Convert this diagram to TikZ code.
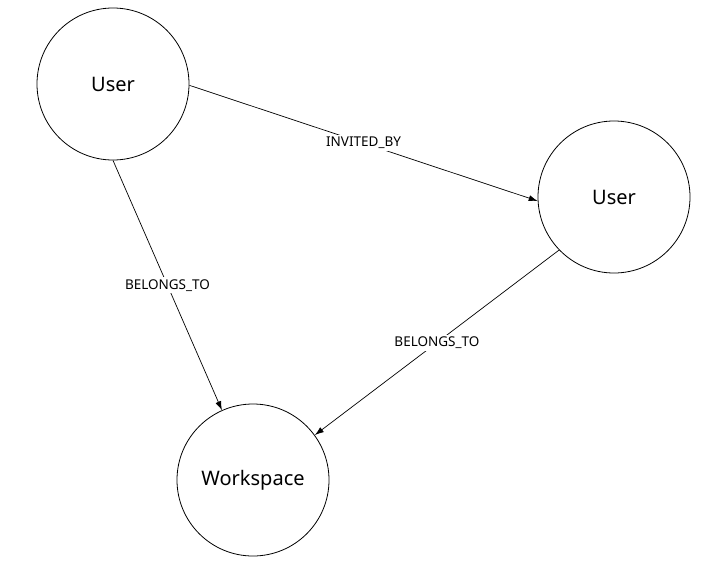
\documentclass[tikz,border=0pt]{standalone}
\usepackage{fontspec}
\setmainfont{Noto Sans}
\usepackage{tikz}
\usetikzlibrary{arrows.meta}
\tikzset{
  entity/.style={circle,draw=black,line width=0.8pt,minimum size=152pt,inner sep=0pt,
    font=\fontsize{20}{24}\selectfont,fill=white},
  rel/.style={-{Latex[length=9pt,width=6pt]},line width=0.7pt,black},
  rellabel/.style={font=\fontsize{13.5}{16}\selectfont,fill=white,inner sep=2pt}
}
\begin{document}
\begin{tikzpicture}[x=1pt,y=-1pt]
  \useasboundingbox (0,0) rectangle (717,579);
  \node[entity] (user1) at (113,84) {User};
  \node[entity] (user2) at (614,197) {User};
  \node[entity] (workspace) at (253,480) {Workspace};

  \draw[rel] (user1.-1) -- node[rellabel] {INVITED\_BY} (user2.183);
  \draw[rel] (user1.south) -- node[rellabel] {BELONGS\_TO} (workspace.114);
  \draw[rel] (user2.224) -- node[rellabel] {BELONGS\_TO} (workspace.36);
\end{tikzpicture}
\end{document}
